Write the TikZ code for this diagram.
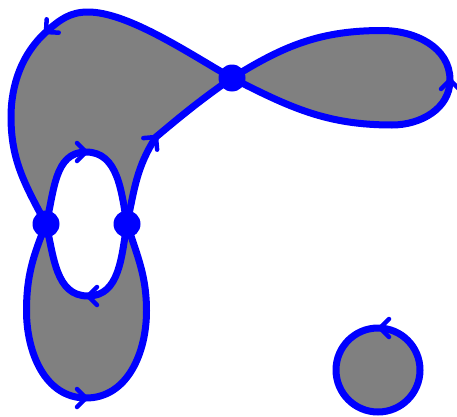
\documentclass[tikz,border=0pt]{standalone}
\begin{document}
\begin{tikzpicture}[x=1pt,y=1pt,
  edge/.style={draw=blue, line width=7pt, line cap=round, line join=round},
  region/.style={fill=gray},
  dot/.style={circle, fill=blue, inner sep=0pt, minimum size=27pt},
  barb/.pic={\draw[blue, line width=4.5pt, line cap=round, line join=round] (-9pt,9pt) -- (0pt,0pt) -- (-9pt,-9pt);}
]
\useasboundingbox (0,0) rectangle (457,416);
\coordinate (A) at (232,338);
\coordinate (B) at (46,192);
\coordinate (C) at (127,192);
\coordinate (O) at (378,46);
% arrow points
\coordinate (p1) at (46,384);
\coordinate (p2) at (156,279);
\coordinate (p3) at (86,264);
\coordinate (p4) at (88,120);
\coordinate (p5) at (86,18);
\coordinate (p6) at (450,336);
\coordinate (p7) at (380,88);
% fills
\fill[region] (A) .. controls (190,362) and (128,404) .. (88,404) to[out=180,in=42] (p1) to[out=222,in=90,looseness=0.9] (11,299) to[out=-90,in=118] (B)
  to[out=75,in=180] (p3) to[out=0,in=100] (C)
  to[out=78,in=237] (p2) to[out=40,in=215] (A) -- cycle;
\fill[region] (B) to[out=-112,in=90] (26.5,105) to[out=-90,in=180] (p5) to[out=0,in=-90] (146.5,105) to[out=90,in=-72] (C)
  to[out=-100,in=0] (p4) to[out=180,in=-76] (B) -- cycle;
\fill[region] (A) to[out=-27,in=180] (392,291) to[out=0,in=-90] (p6) to[out=90,in=0] (382,385.5) to[out=180,in=32] (A) -- cycle;
\fill[region] (O) circle (42);
% edges
\draw[edge] (A) .. controls (190,362) and (128,404) .. (88,404) to[out=180,in=42] (p1) to[out=222,in=90,looseness=0.9] (11,299) to[out=-90,in=118] (B);
\draw[edge] (C) to[out=78,in=237] (p2) to[out=40,in=215] (A);
\draw[edge] (B) to[out=75,in=180] (p3) to[out=0,in=100] (C);
\draw[edge] (C) to[out=-100,in=0] (p4) to[out=180,in=-76] (B);
\draw[edge] (B) to[out=-112,in=90] (26.5,105) to[out=-90,in=180] (p5) to[out=0,in=-90] (146.5,105) to[out=90,in=-72] (C);
\draw[edge] (A) to[out=-27,in=180] (392,291) to[out=0,in=-90] (p6) to[out=90,in=0] (382,385.5) to[out=180,in=32] (A);
\draw[edge] (O) circle (42);
% arrowheads
\pic[rotate=222] at (p1) {barb};
\pic[rotate=50] at (p2) {barb};
\pic[rotate=0] at (p3) {barb};
\pic[rotate=180] at (p4) {barb};
\pic[rotate=0] at (p5) {barb};
\pic[rotate=90] at (p6) {barb};
\pic[rotate=180] at (p7) {barb};
% vertices
\node[dot] (dA) at (A) {};
\node[dot] (dB) at (B) {};
\node[dot] (dC) at (C) {};
\end{tikzpicture}
\end{document}
